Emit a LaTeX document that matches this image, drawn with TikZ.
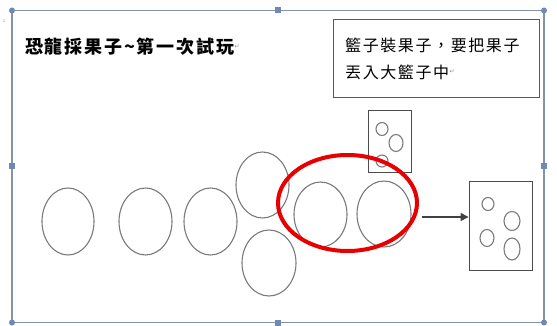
\documentclass[tikz,border=0pt]{standalone}
\usepackage{fontspec}
\newfontfamily\cjk{Noto Sans CJK TC}
\newfontfamily\cjktitle[LetterSpace=10]{Noto Sans CJK TC}
\newfontfamily\cjkbox[LetterSpace=10]{Noto Sans CJK TC}
\newfontfamily\djv{DejaVu Sans}
\usetikzlibrary{shapes.geometric,arrows.meta}
\definecolor{framecol}{HTML}{8593A8}
\definecolor{handlecol}{HTML}{6F89B5}
\definecolor{linegray}{HTML}{7A7A7A}
\definecolor{redc}{HTML}{E80000}
\tikzset{
  oval/.style={ellipse, draw=linegray, line width=1.1pt, inner sep=0pt},
  fruit/.style={ellipse, draw=linegray, line width=1.1pt, inner sep=0pt},
  basket/.style={draw=black!70, line width=0.9pt, inner sep=0pt},
  handlec/.style={circle, fill=handlecol, inner sep=0pt, minimum size=6pt},
  handles/.style={rectangle, fill=handlecol, inner sep=0pt, minimum size=6pt},
  pmark/.style={font=\djv\fontsize{6}{6}\selectfont, text=black!45, inner sep=0pt},
  arr/.style={-{Triangle[length=8pt,width=8pt]}, line width=1.3pt, draw=black!75}
}
\begin{document}
\begin{tikzpicture}[x=1pt,y=-1pt]
\useasboundingbox (0,0) rectangle (557,326);
\fill[white] (0,0) rectangle (557,326);
% frame
\draw[framecol, line width=1.3pt] (12,10.5) rectangle (544,322.5);
\node[handlec] (h1) at (12,10.5) {};
\node[handlec] (h2) at (544,10.5) {};
\node[handlec] (h3) at (12,322.5) {};
\node[handlec] (h4) at (544,322.5) {};
\node[handles] (h5) at (278,10.5) {};
\node[handles] (h6) at (278,322.5) {};
\node[handles] (h7) at (12,166) {};
\node[handles] (h8) at (544,166) {};
\node[font=\fontsize{4}{4}\selectfont, text=black!40] (ln) at (4,21) {2};
% title
\node[anchor=west, inner sep=0pt, font=\cjktitle\bfseries\fontsize{18}{18}\selectfont] (title) at (25,47) {恐龍採果子\textasciitilde 第一次試玩};
\node[pmark, anchor=west] (pm1) at (title.east) {↵};
% text box
\node[basket, draw=black!65, minimum width=206pt, minimum height=78pt] (tb) at (436.5,58) {};
\node[anchor=west, inner sep=0pt, font=\cjkbox\fontsize{16}{16}\selectfont] (t1) at (345,45) {籃子裝果子，要把果子};
\node[anchor=west, inner sep=0pt, font=\cjkbox\fontsize{16}{16}\selectfont] (t2) at (345,72) {丟入大籃子中};
\node[pmark, anchor=west] (pm2) at (t2.east) {↵};
% ovals
\node[oval, minimum width=52pt, minimum height=67pt] (o1) at (68,221.5) {};
\node[oval, minimum width=53pt, minimum height=67pt] (o2) at (145.5,221.5) {};
\node[oval, minimum width=53pt, minimum height=67pt] (o3) at (210.5,221.5) {};
\node[oval, minimum width=53pt, minimum height=66pt] (o4) at (262.5,185) {};
\node[oval, minimum width=54pt, minimum height=66pt] (o5) at (269,263) {};
\node[oval, minimum width=53pt, minimum height=65pt] (o6) at (320.5,214.5) {};
\node[oval, minimum width=54pt, minimum height=66pt] (o7) at (384,214) {};
% small basket
\node[basket, minimum width=43pt, minimum height=62pt] (sb) at (389.5,141) {};
\node[fruit, minimum width=12pt, minimum height=13pt] (sf1) at (382,129) {};
\node[fruit, minimum width=14pt, minimum height=17pt] (sf2) at (396,143) {};
\node[fruit, minimum width=12pt, minimum height=12pt] (sf3) at (382,161) {};
% red ellipse
\node[ellipse, draw=redc, line width=4pt, inner sep=0pt, minimum width=139pt, minimum height=96pt] (red) at (347.5,203) {};
% big basket
\node[basket, minimum width=63pt, minimum height=89pt] (bb) at (500.5,225.5) {};
\node[fruit, minimum width=12pt, minimum height=13pt] (bf1) at (488,204) {};
\node[fruit, minimum width=16pt, minimum height=19pt] (bf2) at (512,221) {};
\node[fruit, minimum width=14pt, minimum height=17pt] (bf3) at (487,238) {};
\node[fruit, minimum width=16pt, minimum height=22pt] (bf4) at (512,249) {};
% arrow
\coordinate (as) at (422,217);
\draw[arr] (as) -- (as -| bb.west);
\end{tikzpicture}
\end{document}
